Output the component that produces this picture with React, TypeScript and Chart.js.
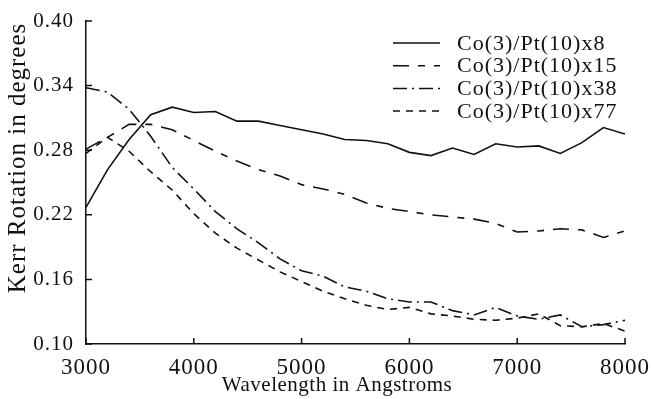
import React, { useEffect, useRef } from "react";
import { Chart, registerables } from "chart.js";

Chart.register(...registerables);

const wavelengths = [3000, 3200, 3400, 3600, 3800, 4000, 4200, 4400, 4600, 4800, 5000, 5200, 5400, 5600, 5800, 6000, 6200, 6400, 6600, 6800, 7000, 7200, 7400, 7600, 7800, 8000];
const kerrX8 = [0.227, 0.262, 0.29, 0.313, 0.32, 0.315, 0.316, 0.307, 0.307, 0.303, 0.299, 0.295, 0.29, 0.289, 0.286, 0.278, 0.275, 0.282, 0.276, 0.286, 0.283, 0.284, 0.277, 0.287, 0.301, 0.295];
const kerrX15 = [0.281, 0.292, 0.304, 0.304, 0.299, 0.289, 0.279, 0.27, 0.262, 0.256, 0.248, 0.244, 0.239, 0.231, 0.226, 0.223, 0.22, 0.218, 0.216, 0.212, 0.204, 0.205, 0.207, 0.206, 0.199, 0.205];
const kerrX38 = [0.338, 0.334, 0.318, 0.293, 0.264, 0.244, 0.223, 0.207, 0.194, 0.179, 0.168, 0.163, 0.153, 0.149, 0.142, 0.139, 0.139, 0.131, 0.127, 0.134, 0.126, 0.123, 0.127, 0.116, 0.118, 0.122];
const kerrX77 = [0.277, 0.292, 0.279, 0.26, 0.243, 0.221, 0.203, 0.189, 0.178, 0.167, 0.158, 0.149, 0.142, 0.136, 0.132, 0.134, 0.128, 0.126, 0.123, 0.122, 0.124, 0.128, 0.117, 0.116, 0.119, 0.112];
const seriesLabels = ["Co(3)/Pt(10)x8", "Co(3)/Pt(10)x15", "Co(3)/Pt(10)x38", "Co(3)/Pt(10)x77"];
const xTickValues = [3000, 4000, 5000, 6000, 7000, 8000];
const yTickValues = [0.1, 0.16, 0.22, 0.28, 0.34, 0.4];
const xTitle = "Wavelength in Angstroms";
const yTitle = "Kerr Rotation in degrees";

const FONT = "'Liberation Serif', 'Times New Roman', serif";
const INK = "#111";

const dashes: number[][] = [[], [16, 9, 7, 9], [14, 5, 2, 5], [7, 6]];

const decorPlugin = {
  id: "decor",
  beforeDraw(chart: any) {
    chart.ctx.letterSpacing = "1px";
  },
  afterDraw(chart: any) {
    const ctx = chart.ctx;
    const { left, right, top, bottom } = chart.chartArea;
    const xs = chart.scales.x;
    const ys = chart.scales.y;
    ctx.save();
    ctx.strokeStyle = INK;
    ctx.lineWidth = 1.5;
    ctx.setLineDash([]);
    // inward tick marks
    ctx.beginPath();
    xTickValues.forEach((v) => {
      const px = xs.getPixelForValue(v);
      ctx.moveTo(px, bottom);
      ctx.lineTo(px, bottom - 6);
    });
    yTickValues.forEach((v) => {
      const py = ys.getPixelForValue(v);
      ctx.moveTo(left, py);
      ctx.lineTo(left + 6, py);
    });
    ctx.stroke();

    // axis titles
    ctx.fillStyle = INK;
    ctx.letterSpacing = "0.5px";
    ctx.font = `21px ${FONT}`;
    ctx.textAlign = "center";
    ctx.textBaseline = "middle";
    ctx.fillText(xTitle, 337, 385);
    ctx.save();
    ctx.letterSpacing = "1px";
    ctx.translate(18, 158);
    ctx.rotate(-Math.PI / 2);
    ctx.font = `25px ${FONT}`;
    ctx.fillText(yTitle, 0, 0);
    ctx.restore();

    // legend
    const ds = chart.data.datasets;
    ctx.letterSpacing = "1px";
    ctx.font = `22px ${FONT}`;
    ctx.textAlign = "left";
    ds.forEach((d: any, i: number) => {
      const y = 43 + i * 22.7;
      ctx.beginPath();
      ctx.setLineDash(d.borderDash || []);
      ctx.lineWidth = 1.5;
      ctx.moveTo(right - 232, y);
      ctx.lineTo(right - 185, y);
      ctx.stroke();
      ctx.setLineDash([]);
      ctx.fillText(d.label, right - 168, y + 1);
    });
    ctx.restore();
  },
};

export default function App() {
  const ref = useRef<HTMLCanvasElement | null>(null);
  useEffect(() => {
    document.body.style.margin = "0";
    const series = [kerrX8, kerrX15, kerrX38, kerrX77];
    const chart = new Chart(ref.current as HTMLCanvasElement, {
      type: "line",
      data: {
        labels: wavelengths,
        datasets: series.map((vals, i) => ({
          label: seriesLabels[i],
          data: vals.map((v, j) => ({ x: wavelengths[j], y: v })),
          borderColor: INK,
          borderWidth: 1.6,
          borderDash: dashes[i],
          pointRadius: 0,
          tension: 0,
          fill: false,
        })),
      },
      options: {
        animation: false,
        responsive: false,
        devicePixelRatio: 1,
        layout: { padding: { left: 0, right: 27, top: 21, bottom: 0 } },
        plugins: { legend: { display: false }, tooltip: { enabled: false } },
        scales: {
          x: {
            type: "linear",
            min: 3000,
            max: 8000,
            afterBuildTicks: (s: any) => {
              s.ticks = xTickValues.map((v) => ({ value: v }));
            },
            afterFit: (s: any) => {
              s.height = 55;
              s.paddingLeft = 0;
              s.paddingRight = 0;
            },
            grid: { display: false, drawTicks: false },
            border: { display: true, color: INK, width: 1.5 },
            ticks: {
              color: INK,
              font: { family: FONT, size: 23 },
              padding: 10,
              maxRotation: 0,
              autoSkip: false,
              callback: (v: any) => String(v),
            },
          },
          y: {
            min: 0.1,
            max: 0.4,
            afterBuildTicks: (s: any) => {
              s.ticks = yTickValues.map((v) => ({ value: v }));
            },
            afterFit: (s: any) => {
              s.width = 86;
              s.paddingTop = 0;
              s.paddingBottom = 0;
            },
            grid: { display: false, drawTicks: false },
            border: { display: true, color: INK, width: 1.5 },
            ticks: {
              color: INK,
              font: { family: FONT, size: 21 },
              padding: 12,
              autoSkip: false,
              callback: (v: any) => Number(v).toFixed(2),
            },
          },
        },
      },
      plugins: [decorPlugin],
    });
    return () => chart.destroy();
  }, []);
  return (
    <div style={{ position: "absolute", left: 0, top: 0, width: 652, height: 399, background: "#fff" }}>
      <canvas ref={ref} width={652} height={399} />
    </div>
  );
}
